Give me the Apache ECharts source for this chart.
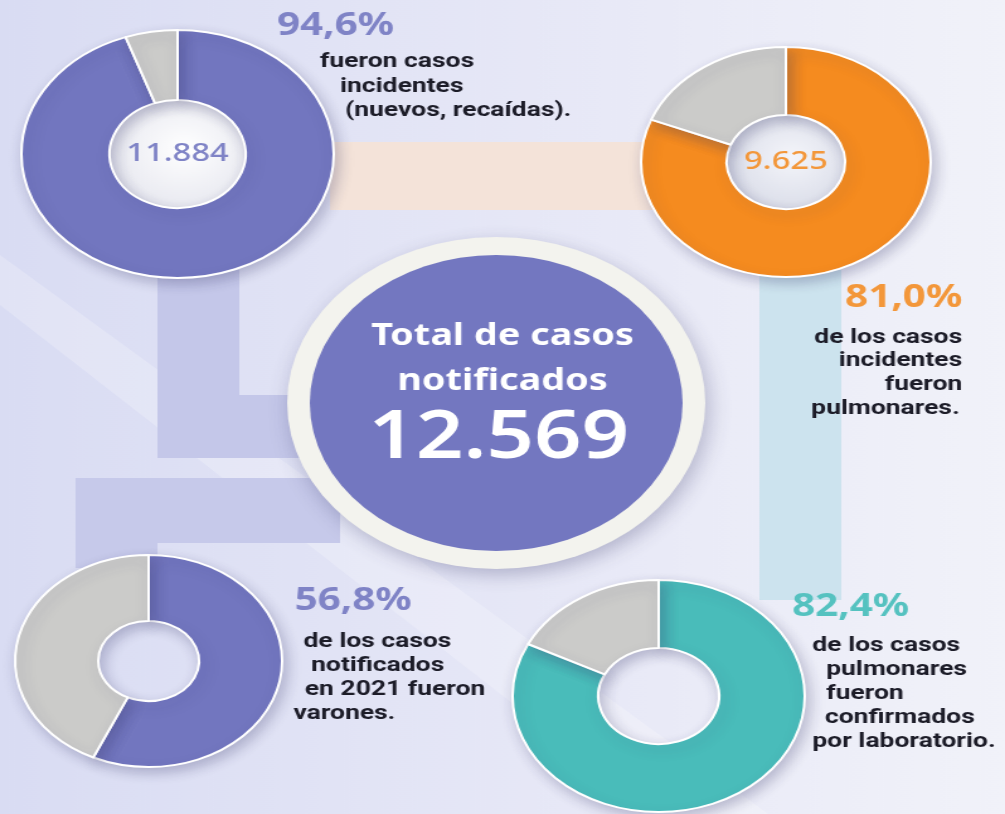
<!DOCTYPE html>
<html>
<head>
<meta charset="utf-8">
<script src="https://cdn.jsdelivr.net/npm/echarts@6/dist/echarts.min.js"></script>
<style>
  html, body { margin: 0; padding: 0; overflow: hidden; background: #e4e6f5; }
  /* the source infographic is stretched sideways, so the chart is drawn narrow and widened */
  #main { position: absolute; left: 0; top: 0; width: 798px; height: 814px; transform: scaleX(1.2594); transform-origin: 0 0; }
</style>
</head>
<body>
<div id="main"></div>
<script>
var categories = ['Casos incidentes', 'Casos pulmonares', 'Varones', 'Confirmados por laboratorio'];
var sharePct = [94.6, 81.0, 56.8, 82.4];
var restPct = [5.4, 19.0, 43.2, 17.6];
var innerCounts = [11884, 9625, null, null];
var totalCases = 12569;
var captions = [
  ['fueron casos', 'incidentes', '(nuevos, recaídas).'],
  ['de los casos', 'incidentes', 'fueron', 'pulmonares.'],
  ['de los casos', 'notificados', 'en 2021 fueron', 'varones.'],
  ['de los casos', 'pulmonares', 'fueron', 'confirmados', 'por laboratorio.']
];

var FONT = '"Noto Sans", "Open Sans", sans-serif';
var CAPTION_FONT = 'bold 21px Roboto, "Noto Sans", sans-serif';
var mainColors = ['#7276bf', '#f58b1f', '#7276bf', '#49bcba'];
var pctColors = ['#7f83c6', '#f3973a', '#7f83c6', '#55c2c0'];
var restColor = '#cbcbc9';

// where each donut and its caption sit
var layout = [
  { center: [141, 154], radius: [54, 124], hole: ['#ffffff', '#e6e7ef'],
    align: 'left', pct: [220, 26], lines: [[254, 62], [270, 87], [274, 111]] },
  { center: [624, 162], radius: [47, 115], hole: ['#f4f5fa', '#d9dce8'],
    align: 'right', pct: [764, 298], lines: [[764, 338], [764, 361], [764, 385], [762, 409]] },
  { center: [118, 661], radius: [40, 106], hole: null,
    align: 'left', pct: [234, 601], lines: [[241, 642], [247, 666], [242, 690], [233, 714]] },
  { center: [523, 696], radius: [48, 116], hole: null,
    align: 'left', pct: [629, 607], lines: [[645, 646], [656, 670], [656, 694], [655, 718], [645, 742]] }
];

function fmtInt(n) { return String(n).replace(/\B(?=(\d{3})+(?!\d))/g, '.'); }
function fmtPct(p) { return p.toFixed(1).replace('.', ',') + '%'; }

var chart = echarts.init(document.getElementById('main'));

var series = layout.map(function (l, i) {
  return {
    type: 'pie',
    name: categories[i],
    center: l.center,
    radius: l.radius,
    startAngle: 90,
    clockwise: true,
    silent: true,
    animation: false,
    z: 3,
    labelLine: { show: false },
    label: { show: false },
    itemStyle: {
      borderColor: '#ffffff',
      borderWidth: 2,
      shadowBlur: 12,
      shadowColor: 'rgba(50,50,100,0.28)',
      shadowOffsetX: 3,
      shadowOffsetY: 5
    },
    data: [
      {
        name: categories[i], value: sharePct[i],
        itemStyle: { color: mainColors[i] },
        label: {
          show: innerCounts[i] != null,
          position: 'center',
          formatter: function () { return innerCounts[i] != null ? fmtInt(innerCounts[i]) : ''; },
          color: pctColors[i],
          fontFamily: FONT,
          fontSize: 26,
          fontWeight: 500
        }
      },
      { name: 'Resto', value: restPct[i], itemStyle: { color: restColor } }
    ]
  };
});

var graphics = [];

// background stripes joining the donuts
function rect(x, y, w, h, fill) {
  graphics.push({ type: 'rect', z: 0, silent: true, shape: { x: x, y: y, width: w, height: h }, style: { fill: fill } });
}
graphics.push({
  type: 'polygon', z: 0, silent: true,
  shape: { points: [[0, 255], [0, 305], [520, 814], [610, 814]] },
  style: { fill: 'rgba(255,255,255,0.22)' }
});
rect(262, 142, 260, 68, '#f4e3d9');
rect(125, 270, 65, 188, '#c4c7e9');
rect(125, 395, 140, 63, '#c4c7e9');
rect(60, 478, 210, 65, '#c6c9ea');
rect(60, 478, 65, 90, '#c6c9ea');
rect(603, 270, 65, 330, '#cce3ee');

// donut holes with a soft fill
layout.forEach(function (l) {
  if (!l.hole) return;
  graphics.push({
    type: 'circle', z: 1, silent: true,
    shape: { cx: l.center[0], cy: l.center[1], r: l.radius[0] },
    style: {
      fill: { type: 'radial', x: 0.55, y: 0.45, r: 0.6,
        colorStops: [{ offset: 0, color: l.hole[0] }, { offset: 1, color: l.hole[1] }] }
    }
  });
});

// central total
graphics.push({
  type: 'circle', z: 1, silent: true,
  shape: { cx: 394, cy: 403, r: 166 },
  style: { fill: '#f3f3ee', shadowBlur: 18, shadowColor: 'rgba(50,50,100,0.3)', shadowOffsetX: 3, shadowOffsetY: 6 }
});
graphics.push({
  type: 'circle', z: 1, silent: true,
  shape: { cx: 394, cy: 403, r: 148 },
  style: { fill: '#7377c0' }
});
function text(x, y, str, font, fill, align) {
  graphics.push({
    type: 'text', z: 10, silent: true, x: x, y: y,
    style: { text: str, font: font, fill: fill, textAlign: align, textVerticalAlign: 'middle' }
  });
}
text(399, 336, 'Total de casos', 'bold 30px ' + FONT, '#ffffff', 'center');
text(399, 381, 'notificados', 'bold 30px ' + FONT, '#ffffff', 'center');
text(396, 439, fmtInt(totalCases), '600 66px ' + FONT, '#ffffff', 'center');

// percentages and captions
layout.forEach(function (l, i) {
  text(l.pct[0], l.pct[1], fmtPct(sharePct[i]), 'bold 32px ' + FONT, pctColors[i], l.align);
  captions[i].forEach(function (line, k) {
    text(l.lines[k][0], l.lines[k][1], line, CAPTION_FONT, '#1c1c28', l.align);
  });
});

chart.setOption({
  backgroundColor: {
    type: 'linear', x: 0, y: 0, x2: 1, y2: 0,
    colorStops: [{ offset: 0, color: '#d9dcf3' }, { offset: 0.6, color: '#e8e9f7' }, { offset: 1, color: '#f1f2f9' }]
  },
  graphic: graphics,
  series: series
});
</script>
</body>
</html>
